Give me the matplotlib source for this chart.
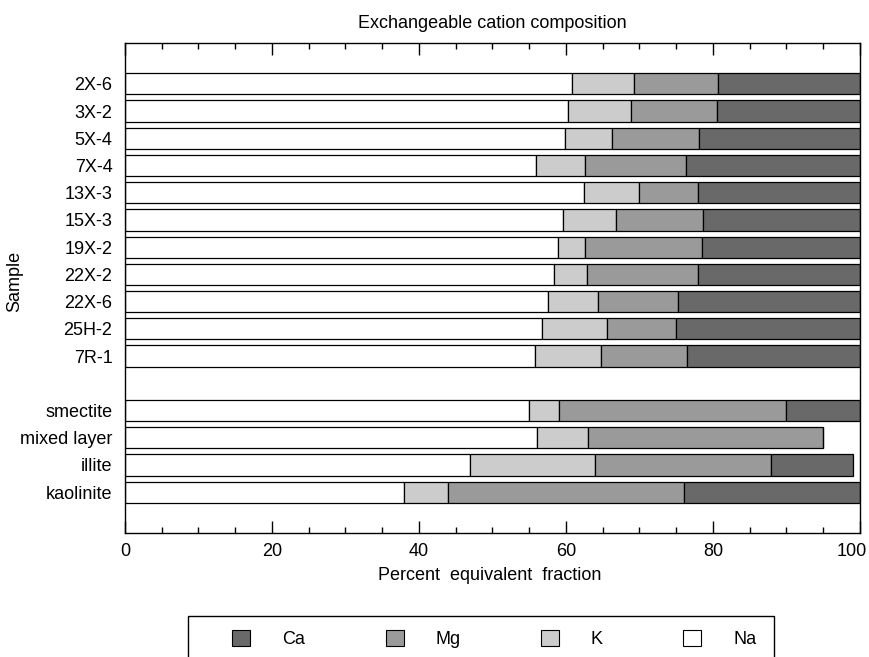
import matplotlib
matplotlib.use("Agg")
import matplotlib.pyplot as plt
from matplotlib.patches import Patch, Rectangle
from matplotlib.ticker import MultipleLocator
from matplotlib.transforms import ScaledTranslation

plt.rcParams['font.family'] = ['Liberation Sans', 'DejaVu Sans']

# ---- data (percent equivalent fraction) ----
samples = ["2X-6", "3X-2", "5X-4", "7X-4", "13X-3", "15X-3", "19X-2",
           "22X-2", "22X-6", "25H-2", "7R-1"]
minerals = ["smectite", "mixed layer", "illite", "kaolinite"]

na = [60.8, 60.3, 59.8, 55.9, 62.4, 59.6, 58.9, 58.3, 57.5, 56.8, 55.8,
      55.0, 56.0, 47.0, 38.0]
k = [8.5, 8.5, 6.4, 6.7, 7.6, 7.2, 3.7, 4.6, 6.8, 8.8, 9.0,
     4.1, 7.0, 17.0, 6.0]
mg = [11.4, 11.8, 11.9, 13.7, 7.9, 11.9, 15.9, 15.1, 11.0, 9.3, 11.6,
      30.9, 32.0, 23.9, 32.0]
ca = [19.3, 19.4, 21.9, 23.7, 22.1, 21.3, 21.5, 22.0, 24.7, 25.1, 23.6,
      10.0, 0.0, 11.1, 24.0]

cations = ["Ca", "Mg", "K", "Na"]
colors = {"Ca": "#696969", "Mg": "#9a9a9a", "K": "#cccccc", "Na": "#ffffff"}
xticks = [0, 20, 40, 60, 80, 100]

labels = samples + minerals
# one empty slot between the samples and the reference minerals
pos = list(range(len(samples))) + [len(samples) + 1 + i for i in range(len(minerals))]

fig = plt.figure(figsize=(8.7, 6.57), dpi=100)
ax = fig.add_axes([125/870, 1-533/657, 735/870, 490/657])

h = 0.78
lw = 0.9
series = [("Na", na), ("K", k), ("Mg", mg), ("Ca", ca)]
left = [0.0]*len(na)
for name, vals in series:
    ax.barh(pos, vals, left=left, height=h, color=colors[name],
            edgecolor="black", linewidth=lw, zorder=2)
    left = [l + v for l, v in zip(left, vals)]

ax.set_xlim(0, 100)
ax.set_ylim(max(pos) + 1.5, -1.5)
ax.set_yticks(pos)
ax.set_yticklabels(labels)
ax.tick_params(axis='y', length=0, pad=9, labelsize=13)
ax.set_xticks(xticks)
ax.set_xticklabels([str(t) for t in xticks])
ax.xaxis.set_minor_locator(MultipleLocator(5))
ax.tick_params(axis='x', which='both', direction='in', top=True, bottom=True,
               labelsize=13, pad=7, width=1.0)
ax.tick_params(axis='x', which='major', length=8.6)
ax.tick_params(axis='x', which='minor', length=4.3)
for s in ax.spines.values():
    s.set_linewidth(1.0)

# keep the "100" label inside the figure, as in the reference
last_tick = ax.xaxis.get_major_ticks(len(xticks))[-1]
last_tick.label1.set_transform(last_tick.label1.get_transform()
                               + ScaledTranslation(-8/100, 0, fig.dpi_scale_trans))

ax.set_xlabel("Percent  equivalent  fraction", fontsize=13)
ax.xaxis.set_label_coords(0.4966, -0.069)
ax.set_ylabel("Sample", fontsize=13)
ax.yaxis.set_label_coords(-0.1388, 0.514)
ax.set_title("Exchangeable cation composition", fontsize=13, pad=10.8)

handles = [Patch(facecolor=colors[c], edgecolor="black", linewidth=0.8) for c in cations]
fig.legend(handles, cations, ncol=4, loc='upper left',
           bbox_to_anchor=(232.3/870, 1-630/657), frameon=False,
           borderpad=0, borderaxespad=0, handlelength=1.0, handleheight=1.0,
           handletextpad=1.75, columnspacing=4.47, fontsize=13)
fig.add_artist(Rectangle((188.3/870, -0.05), (774-188.3)/870, (1-615.7/657)+0.05,
                         transform=fig.transFigure, fill=False,
                         edgecolor="black", linewidth=1.0))

fig.savefig("out.png", dpi=100)
